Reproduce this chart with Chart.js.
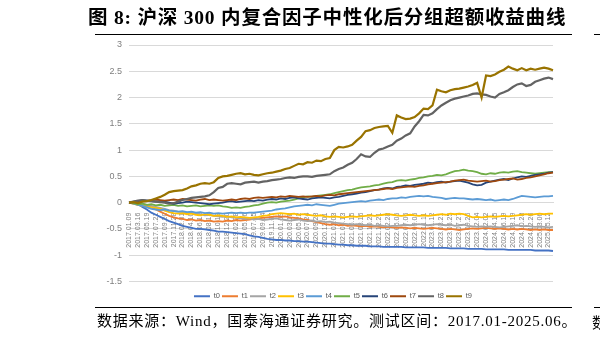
<!DOCTYPE html>
<html>
<head>
<meta charset="utf-8">
<script src="https://cdn.jsdelivr.net/npm/chart.js@4.4.1/dist/chart.umd.min.js"></script>
<style>
  html, body { margin:0; padding:0; background:#fff; width:600px; height:339px; overflow:hidden; }
  #wrap { position:relative; width:600px; height:339px; }
  canvas { position:absolute; left:0; top:0; }
  .title { position:absolute; left:88px; top:6px; font-family:"Liberation Serif","Noto Sans CJK SC",serif; font-weight:bold; font-size:19.5px; letter-spacing:0.8px; color:#000; white-space:nowrap; line-height:24px; }
  .src { position:absolute; left:97px; top:312px; font-family:"Liberation Serif","Noto Sans CJK SC",serif; font-size:15px; letter-spacing:0.75px; color:#000; white-space:nowrap; line-height:19px; }
  .src2 { position:absolute; left:592px; top:312px; font-family:"Noto Sans CJK SC",serif; font-size:15px; color:#000; white-space:nowrap; line-height:19px; }
  .rule { position:absolute; height:1px; background:#000; }
</style>
</head>
<body>
<div id="wrap">
  <canvas id="c" width="600" height="339"></canvas>
  <div class="title">图 8: 沪深 300 内复合因子中性化后分组超额收益曲线</div>
  <div class="rule" style="left:95px; width:477px; top:34px;"></div>
  <div class="rule" style="left:594px; width:6px; top:34px;"></div>
  <div class="rule" style="left:95px; width:477px; top:307px;"></div>
  <div class="rule" style="left:594px; width:6px; top:307px;"></div>
  <div class="src">数据来源：Wind，国泰海通证券研究。测试区间：2017.01-2025.06。</div>
  <div class="src2">数</div>
</div>
<script>
const seriesNames = ['t0','t1','t2','t3','t4','t5','t6','t7','t8','t9'];
const seriesColors = ['#4472C4','#ED7D31','#A5A5A5','#FFC000','#5B9BD5','#70AD47','#264478','#9E480E','#636363','#997300'];

const tickLabels = ['2017.01.09','2017.03.16','2017.05.19','2017.07.21','2017.09.20','2017.11.28','2018.02.01','2018.04.10','2018.06.12','2018.08.13','2018.10.19','2018.12.20','2019.02.28','2019.05.06','2019.07.05','2019.09.04','2019.11.07','2020.01.09','2020.03.18','2020.05.22','2020.07.24','2020.09.23','2020.12.01','2021.02.03','2021.04.13','2021.06.15','2021.08.16','2021.10.21','2021.12.21','2022.02.28','2022.05.05','2022.07.06','2022.09.05','2022.11.11','2023.01.12','2023.03.21','2023.05.25','2023.07.27','2023.09.26','2023.12.04','2024.02.02','2024.04.15','2024.06.19','2024.08.19','2024.10.28','2024.12.26','2025.03.06','2025.05.12'];

const yTicks = [-1.5,-1,-0.5,0,0.5,1,1.5,2,2.5,3];

const t0 = [0,-0.01,-0.03,-0.08,-0.13,-0.19,-0.23,-0.27,-0.31,-0.35, -0.38,-0.41,-0.44,-0.46,-0.48,-0.5,-0.5,-0.51,-0.52,-0.53, -0.55,-0.55,-0.56,-0.57,-0.58,-0.59,-0.6,-0.62,-0.64,-0.65, -0.67,-0.69,-0.7,-0.71,-0.71,-0.72,-0.72,-0.73,-0.73,-0.74, -0.74,-0.75,-0.76,-0.77,-0.78,-0.78,-0.79,-0.8,-0.8,-0.81, -0.81,-0.82,-0.82,-0.82,-0.83,-0.83,-0.83,-0.84,-0.84,-0.84, -0.84,-0.84,-0.85,-0.85,-0.85,-0.85,-0.85,-0.86,-0.86,-0.86, -0.86,-0.86,-0.87,-0.87,-0.87,-0.87,-0.88,-0.88,-0.88,-0.88, -0.89,-0.89,-0.89,-0.89,-0.89,-0.9,-0.9,-0.9,-0.9,-0.9, -0.9,-0.91,-0.91,-0.91,-0.91,-0.92];
const t1 = [0,-0.02,-0.04,-0.05,-0.07,-0.09,-0.13,-0.17,-0.21,-0.25, -0.28,-0.3,-0.31,-0.33,-0.32,-0.34,-0.33,-0.35,-0.34,-0.36, -0.35,-0.36,-0.34,-0.35,-0.33,-0.34,-0.33,-0.32,-0.31,-0.3, -0.29,-0.28,-0.27,-0.26,-0.27,-0.26,-0.28,-0.29,-0.3,-0.32, -0.33,-0.35,-0.37,-0.39,-0.41,-0.42,-0.41,-0.43,-0.42,-0.44, -0.43,-0.44,-0.45,-0.44,-0.46,-0.45,-0.46,-0.47,-0.46,-0.47, -0.48,-0.47,-0.48,-0.49,-0.48,-0.49,-0.5,-0.49,-0.48,-0.49, -0.5,-0.51,-0.5,-0.51,-0.52,-0.51,-0.5,-0.49,-0.5,-0.49, -0.48,-0.49,-0.5,-0.49,-0.5,-0.51,-0.5,-0.51,-0.5,-0.51, -0.52,-0.51,-0.52,-0.51,-0.52,-0.52];
const t2 = [0,-0.01,-0.03,-0.02,-0.04,-0.06,-0.08,-0.1,-0.12,-0.14, -0.15,-0.17,-0.18,-0.2,-0.19,-0.21,-0.22,-0.24,-0.23,-0.25, -0.26,-0.27,-0.26,-0.28,-0.29,-0.3,-0.31,-0.3,-0.32,-0.31, -0.33,-0.32,-0.31,-0.3,-0.32,-0.33,-0.34,-0.33,-0.32,-0.34, -0.35,-0.34,-0.36,-0.35,-0.37,-0.36,-0.38,-0.39,-0.4,-0.41, -0.42,-0.41,-0.42,-0.43,-0.42,-0.44,-0.43,-0.44,-0.45,-0.44, -0.44,-0.43,-0.42,-0.43,-0.42,-0.41,-0.42,-0.43,-0.42,-0.41, -0.42,-0.43,-0.42,-0.44,-0.43,-0.42,-0.44,-0.45,-0.46,-0.45, -0.46,-0.45,-0.46,-0.47,-0.46,-0.45,-0.44,-0.43,-0.45,-0.44, -0.45,-0.46,-0.45,-0.46,-0.47,-0.46];
const t3 = [0,-0.02,-0.04,-0.06,-0.08,-0.09,-0.1,-0.12,-0.15,-0.18, -0.2,-0.21,-0.2,-0.22,-0.21,-0.23,-0.24,-0.22,-0.23,-0.25, -0.24,-0.25,-0.27,-0.26,-0.28,-0.27,-0.28,-0.29,-0.28,-0.27, -0.25,-0.24,-0.22,-0.21,-0.2,-0.21,-0.22,-0.21,-0.23,-0.22, -0.23,-0.24,-0.25,-0.24,-0.26,-0.27,-0.26,-0.27,-0.28,-0.27, -0.26,-0.27,-0.26,-0.25,-0.24,-0.25,-0.24,-0.23,-0.22,-0.23, -0.24,-0.25,-0.24,-0.23,-0.24,-0.25,-0.24,-0.25,-0.24,-0.23, -0.22,-0.23,-0.21,-0.22,-0.21,-0.22,-0.25,-0.28,-0.27,-0.28, -0.27,-0.26,-0.27,-0.26,-0.25,-0.26,-0.25,-0.24,-0.23,-0.22, -0.23,-0.22,-0.21,-0.22,-0.21,-0.21];
const t4 = [0,-0.02,-0.04,-0.06,-0.09,-0.12,-0.13,-0.14,-0.13,-0.15, -0.16,-0.17,-0.16,-0.18,-0.17,-0.19,-0.18,-0.2,-0.19,-0.21, -0.2,-0.21,-0.2,-0.19,-0.2,-0.19,-0.2,-0.19,-0.19,-0.18, -0.17,-0.16,-0.15,-0.13,-0.12,-0.11,-0.09,-0.07,-0.06,-0.05, -0.04,-0.05,-0.03,-0.04,-0.05,-0.06,-0.04,-0.02,-0.01,0, 0.01,0.02,0.03,0.02,0.04,0.05,0.06,0.05,0.07,0.08, 0.08,0.1,0.09,0.11,0.12,0.13,0.12,0.13,0.11,0.1, 0.09,0.07,0.08,0.09,0.08,0.08,0.07,0.06,0.07,0.06, 0.05,0.06,0.04,0.05,0.06,0.05,0.07,0.1,0.13,0.12, 0.11,0.1,0.11,0.12,0.12,0.13];
const t5 = [0,-0.01,-0.03,-0.02,-0.04,-0.03,-0.05,-0.04,-0.06,-0.05, -0.04,-0.06,-0.05,-0.07,-0.06,-0.05,-0.07,-0.06,-0.05,-0.06, -0.05,-0.07,-0.08,-0.1,-0.09,-0.1,-0.08,-0.07,-0.05,-0.04, -0.02,0,0.01,0,0.02,0.03,0.04,0.06,0.08,0.1, 0.12,0.11,0.13,0.14,0.15,0.16,0.18,0.2,0.22,0.24, 0.25,0.27,0.29,0.3,0.31,0.33,0.34,0.36,0.38,0.39, 0.42,0.43,0.42,0.44,0.45,0.47,0.48,0.5,0.51,0.53, 0.52,0.54,0.57,0.6,0.61,0.63,0.61,0.6,0.58,0.55, 0.54,0.56,0.55,0.57,0.58,0.57,0.59,0.6,0.58,0.57, 0.56,0.55,0.56,0.57,0.58,0.58];
const t6 = [0,0.02,0.03,0.05,0.04,0.03,0.02,0.03,0.02,0, -0.02,-0.01,0,0.02,0.01,0,-0.01,-0.02,-0.03,-0.02, -0.01,0,0.02,0.03,0.01,0.02,0.03,0.04,0.03,0.05, 0.04,0.06,0.07,0.06,0.08,0.07,0.09,0.1,0.08,0.07, 0.06,0.08,0.09,0.1,0.09,0.08,0.1,0.11,0.13,0.15, 0.16,0.17,0.19,0.2,0.22,0.24,0.25,0.27,0.28,0.27, 0.3,0.31,0.33,0.32,0.34,0.35,0.36,0.38,0.37,0.39, 0.4,0.38,0.4,0.41,0.42,0.4,0.38,0.35,0.33,0.34, 0.38,0.4,0.42,0.44,0.45,0.43,0.46,0.48,0.5,0.49, 0.51,0.53,0.54,0.55,0.57,0.58];
const t7 = [0,0.01,0.03,0.04,0.03,0.05,0.06,0.05,0.04,0.05, 0.06,0.05,0.07,0.06,0.05,0.04,0.06,0.07,0.05,0.06, 0.05,0.04,0.05,0.06,0.05,0.07,0.08,0.07,0.09,0.1, 0.09,0.1,0.11,0.1,0.12,0.11,0.13,0.12,0.11,0.12, 0.11,0.12,0.13,0.12,0.14,0.15,0.14,0.16,0.17,0.18, 0.19,0.2,0.21,0.22,0.23,0.24,0.25,0.26,0.27,0.26, 0.28,0.29,0.3,0.31,0.3,0.32,0.33,0.35,0.36,0.37, 0.38,0.39,0.4,0.42,0.43,0.44,0.42,0.41,0.4,0.41, 0.42,0.4,0.41,0.43,0.44,0.45,0.46,0.44,0.45,0.47, 0.48,0.5,0.52,0.54,0.56,0.57];
const t8 = [0,0.02,0.04,0.05,0.04,0.03,0.02,0.01,0,-0.02, -0.01,0.02,0.05,0.07,0.09,0.1,0.11,0.12,0.14,0.2, 0.28,0.3,0.36,0.37,0.36,0.35,0.38,0.39,0.4,0.38, 0.4,0.41,0.43,0.44,0.45,0.47,0.48,0.47,0.49,0.5, 0.5,0.49,0.51,0.52,0.53,0.54,0.6,0.64,0.67,0.72, 0.76,0.83,0.92,0.88,0.87,0.95,1.01,1.03,1.07,1.1, 1.18,1.22,1.28,1.32,1.45,1.55,1.67,1.66,1.7,1.78, 1.85,1.9,1.95,1.98,2.0,2.02,2.04,2.07,2.08,2.06, 2.05,2.02,2.0,2.07,2.1,2.14,2.2,2.25,2.27,2.22, 2.24,2.3,2.33,2.36,2.38,2.35];
const t9 = [0,0.01,-0.01,0.02,0.03,0.05,0.08,0.11,0.15,0.2, 0.22,0.23,0.24,0.27,0.31,0.33,0.36,0.37,0.36,0.39, 0.47,0.5,0.51,0.53,0.55,0.56,0.54,0.55,0.53,0.52, 0.54,0.56,0.57,0.59,0.61,0.64,0.66,0.7,0.74,0.73, 0.77,0.76,0.8,0.79,0.83,0.85,1.0,1.06,1.05,1.07, 1.1,1.18,1.25,1.36,1.38,1.42,1.44,1.45,1.46,1.33, 1.66,1.62,1.59,1.6,1.63,1.7,1.79,1.78,1.85,2.15, 2.12,2.1,2.14,2.16,2.17,2.19,2.21,2.24,2.28,2.0, 2.42,2.41,2.44,2.49,2.53,2.59,2.55,2.52,2.56,2.52, 2.55,2.53,2.55,2.57,2.55,2.52];

const seriesValues = [t0,t1,t2,t3,t4,t5,t6,t7,t8,t9];

// categories: each labelled date followed by one unlabelled sample point
const categories = [];
tickLabels.forEach(d => { categories.push(d); categories.push(''); });
categories.length = t0.length;

const datasets = seriesNames.map((n, i) => ({
  label: n,
  data: seriesValues[i],
  borderColor: seriesColors[i],
  backgroundColor: seriesColors[i],
  borderWidth: (i >= 8) ? 2.2 : 1.8,
  pointRadius: 0,
  pointStyle: 'line',
  tension: 0,
  order: 10 - i
}));

// move the legend row down/left a little, as in the original layout
const legendShift = {
  id: 'legendShift',
  afterLayout(chart) {
    const l = chart.legend;
    if (l) { l.top += 9; l.bottom += 9; l.left -= 8; l.right -= 8; }
  }
};

new Chart(document.getElementById('c'), {
  type: 'line',
  data: { labels: categories, datasets },
  plugins: [legendShift],
  options: {
    responsive: false,
    animation: false,
    layout: { padding: { left: 85, right: 47, top: 45, bottom: 38 } },
    plugins: {
      tooltip: { enabled: false },
      legend: {
        position: 'bottom',
        fullSize: false,
        labels: {
          usePointStyle: true,
          pointStyleWidth: 16,
          boxHeight: 8,
          padding: 2,
          color: '#595959',
          font: { size: 7.5, family: 'Liberation Sans' },
          sort: (a, b) => a.datasetIndex - b.datasetIndex
        }
      }
    },
    scales: {
      x: {
        type: 'category',
        position: { y: 0 },
        grid: { display: false },
        border: { display: true, color: '#D9D9D9' },
        ticks: {
          autoSkip: false,
          minRotation: 90,
          maxRotation: 90,
          padding: 2,
          color: '#7F7F7F',
          font: { size: 7, family: 'Liberation Sans' },
          callback: function(v, i) { return categories[i]; }
        }
      },
      y: {
        min: -1.5,
        max: 3,
        afterFit: (s) => { s.width = 44; },
        afterBuildTicks: (s) => { s.ticks = yTicks.map(v => ({ value: v })); },
        grid: { color: '#D9D9D9', drawTicks: false },
        border: { display: false },
        ticks: {
          padding: 7,
          color: '#7F7F7F',
          font: { size: 9, family: 'Liberation Sans' },
          callback: (v) => String(v)
        }
      }
    }
  }
});
</script>
</body>
</html>
